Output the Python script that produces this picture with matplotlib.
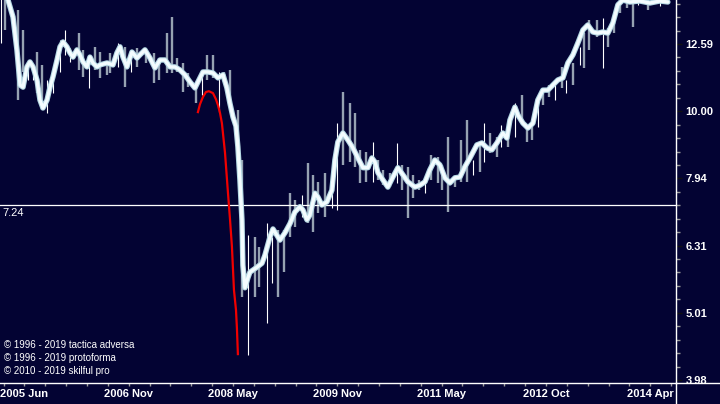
import numpy as np
import matplotlib.pyplot as plt
from matplotlib.lines import Line2D
from matplotlib.ticker import FixedLocator, NullFormatter

plt.rcParams['font.family'] = ['Liberation Sans', 'DejaVu Sans']

# x = week number counted from the left edge of the chart (early Feb 2005)
# weekly price bars (high / low), up = white bar, down = grey bar
bar_week = [1, 4, 13, 17, 21, 24, 27, 31, 35, 39, 44, 48, 52, 58, 61, 66, 70, 74, 79, 81,
            87, 92, 97, 101, 108, 114, 117, 123, 127, 131, 135, 139, 145, 149, 153, 157, 162, 165, 170, 176,
            179, 183, 188, 191, 197, 201, 205, 210, 214, 218, 223, 227, 231, 235, 240, 245, 249, 253, 258, 262,
            266, 270, 275, 279, 283, 288, 293, 297, 301, 305, 309, 314, 318, 323, 326, 331, 336, 340, 345, 349,
            354, 357, 362, 367, 370, 375, 380, 385, 389, 393, 397, 401, 405, 410, 415, 418, 423, 428, 431, 435,
            441, 445, 449, 453, 458, 463, 467, 471, 478, 487]
bar_high = [15.0, 15.0, 14.15, 13.21, 11.92, 11.72, 12.25, 11.72, 11.13, 11.21, 12.76, 13.21, 12.42, 13.07, 12.34, 11.80, 12.47, 12.25, 11.84, 12.21,
            12.63, 12.47, 12.34, 12.42, 12.34, 12.21, 12.00, 13.07, 13.81, 12.00, 11.80, 11.40, 11.02, 11.25, 12.13, 12.13, 11.44, 11.44, 11.52, 10.04,
            8.46, 6.54, 6.50, 6.29, 6.82, 6.50, 6.66, 6.66, 7.55, 7.38, 7.50, 8.38, 8.04, 7.85, 8.10, 7.63, 9.60, 10.68, 10.28, 9.94,
            8.76, 8.70, 9.00, 8.46, 8.18, 8.10, 8.97, 8.32, 8.27, 8.04, 7.90, 7.90, 8.61, 8.55, 8.32, 9.15, 7.90, 9.06, 9.70, 8.46,
            8.97, 9.60, 9.28, 9.15, 9.54, 9.28, 10.28, 10.57, 9.47, 9.54, 10.39, 10.83, 10.94, 11.02, 11.64, 11.13, 11.80, 12.47, 13.07, 13.67,
            13.67, 13.76, 13.30, 13.81, 15.0, 15.0, 15.0, 15.0, 15.0, 15.0]
bar_low = [12.63, 13.21, 10.39, 11.44, 11.13, 11.13, 10.64, 10.04, 9.94, 10.64, 11.44, 12.13, 11.84, 11.52, 11.25, 10.83, 11.52, 11.21, 11.33, 11.40,
           11.64, 10.86, 11.44, 11.64, 11.80, 11.02, 11.13, 11.40, 11.40, 11.44, 10.68, 10.86, 10.28, 10.57, 11.13, 11.21, 9.97, 11.06, 10.28, 8.97,
           5.29, 4.34, 5.29, 5.48, 4.84, 5.55, 5.29, 5.76, 6.50, 6.73, 6.96, 6.82, 6.61, 7.06, 6.96, 7.18, 7.13, 8.32, 8.41, 8.27,
           7.82, 7.85, 7.85, 7.90, 7.76, 7.71, 7.82, 7.63, 6.94, 7.43, 7.63, 7.55, 7.90, 7.82, 7.63, 7.08, 7.71, 7.85, 7.85, 8.04,
           8.13, 8.41, 8.67, 8.55, 8.85, 8.85, 9.15, 9.60, 9.00, 9.06, 9.47, 10.21, 10.50, 10.39, 10.83, 10.64, 10.94, 11.72, 11.60, 12.34,
           12.89, 11.60, 12.47, 13.07, 14.00, 14.25, 13.35, 14.40, 14.15, 14.35]
bar_up = [1, 0, 0, 0, 1, 1, 0, 0, 1, 1, 1, 1, 1, 0, 0, 1, 0, 0, 0, 0,
          1, 0, 1, 0, 0, 0, 0, 0, 0, 0, 0, 0, 0, 1, 0, 0, 1, 0, 0, 0,
          0, 1, 0, 0, 1, 1, 0, 0, 0, 0, 1, 0, 0, 0, 0, 1, 1, 0, 0, 0,
          0, 0, 1, 0, 0, 0, 1, 0, 0, 0, 0, 1, 0, 0, 0, 0, 0, 0, 0, 1,
          0, 1, 0, 0, 1, 0, 1, 0, 0, 0, 1, 0, 0, 1, 0, 1, 0, 1, 0, 0,
          0, 1, 0, 0, 0, 0, 0, 1, 0, 1]

# smoothed price line
line_week = [3.0, 5.9, 9.6, 12.5, 14.8, 17.0, 19.9, 22.1, 24.4, 27.3, 29.5, 31.7, 34.7, 36.9, 39.1, 42.1, 44.3, 46.5, 49.4, 51.7,
             53.9, 56.8, 59.0, 61.3, 64.2, 66.4, 68.6, 71.6, 73.8, 79.0, 83.4, 86.3, 88.6, 90.8, 93.7, 97.4, 101.1, 103.3, 107.0, 110.7,
             114.4, 118.1, 121.8, 125.5, 129.2, 132.8, 136.5, 140.2, 143.9, 147.6, 149.8, 153.5, 157.2, 160.9, 164.6, 167.5, 169.7, 172.0, 174.2, 175.6,
             177.1, 178.6, 179.3, 180.8, 183.0, 184.5, 189.7, 193.4, 195.6, 199.3, 201.5, 206.6, 210.3, 214.0, 217.7, 221.4, 223.6, 226.6, 228.8, 232.5,
             234.7, 237.6, 241.3, 245.0, 247.2, 249.4, 253.1, 256.8, 260.5, 264.2, 267.9, 271.6, 274.5, 276.8, 279.0, 282.7, 286.3, 290.0, 293.7, 297.4,
             301.1, 306.3, 310.0, 313.7, 317.3, 321.0, 324.7, 328.4, 332.1, 335.8, 339.5, 343.2, 346.9, 352.0, 355.7, 359.4, 363.1, 366.8, 369.0, 371.2,
             374.2, 376.4, 380.1, 382.3, 386.0, 389.7, 393.4, 397.0, 400.7, 404.4, 408.1, 411.8, 415.5, 419.2, 422.9, 426.6, 430.3, 433.9, 437.6, 441.3,
             445.0, 448.7, 452.4, 456.1, 459.8, 464.9, 472.3, 479.7, 487.1, 493.0]
line_value = [15.25, 14.64, 13.81, 12.34, 10.94, 10.86, 11.64, 11.84, 11.64, 11.13, 10.39, 10.11, 10.39, 10.86, 11.25, 11.92, 12.47, 12.68, 12.47, 12.21,
              12.04, 12.34, 12.13, 11.84, 11.64, 12.04, 11.80, 11.64, 11.72, 11.80, 11.72, 12.21, 12.47, 12.04, 11.64, 12.25, 12.00, 12.13, 12.34, 12.00,
              11.60, 11.92, 11.92, 11.64, 11.64, 11.52, 11.33, 11.06, 10.83, 11.21, 11.44, 11.44, 11.40, 11.21, 11.33, 10.83, 10.28, 9.80, 9.50, 8.85,
              7.90, 6.89, 5.90, 5.46, 5.65, 5.76, 5.86, 5.94, 6.11, 6.50, 6.68, 6.43, 6.59, 6.80, 7.08, 7.21, 7.13, 6.89, 7.01, 7.55,
              7.45, 7.25, 7.33, 7.63, 8.46, 9.00, 9.28, 9.06, 8.82, 8.52, 8.24, 8.24, 8.52, 8.40, 8.10, 7.90, 7.71, 7.98, 8.24, 8.04,
              7.85, 7.71, 7.76, 7.85, 8.18, 8.46, 8.32, 7.96, 7.82, 7.96, 7.98, 8.27, 8.52, 8.91, 8.97, 8.82, 8.76, 8.97, 9.12, 9.28,
              9.12, 9.70, 10.14, 9.87, 9.60, 9.44, 9.60, 10.39, 10.75, 10.75, 10.94, 11.13, 11.21, 11.80, 12.13, 12.64, 13.21, 13.44, 13.12, 13.07,
              13.12, 13.07, 13.53, 14.40, 14.64, 14.54, 14.59, 14.49, 14.59, 14.54]

# red projection curve
fit_week = [146.1, 147.6, 149.8, 152.0, 154.2, 157.2, 159.4, 160.9, 162.4, 163.8, 166.1, 168.3, 169.7, 171.2, 172.7, 174.2, 174.9, 175.6]
fit_value = [9.97, 10.24, 10.50, 10.68, 10.71, 10.64, 10.42, 10.21, 9.94, 9.60, 8.67, 7.55, 6.94, 6.29, 5.42, 5.06, 4.75, 4.35]

level = 7.24

tick_weeks = [18, 95, 172, 249, 326, 403, 480]
tick_labels = ['2005 Jun', '2006 Nov', '2008 May', '2009 Nov', '2011 May', '2012 Oct', '2014 Apr']

bg = '#030333'

fig = plt.figure(figsize=(7.2, 4.04), dpi=100, facecolor=bg)
ax = fig.add_axes([0, 21 / 404, 676 / 720, 383 / 404])
ax.set_facecolor(bg)

colors = ['#ffffff' if u else '#96a2b2' for u in bar_up]
widths = [0.8 if u else 1.7 for u in bar_up]
ax.vlines(bar_week, bar_low, bar_high, colors=colors, linewidths=widths, zorder=2)

ax.axhline(level, color='white', lw=0.9, zorder=3)

ax.plot(line_week, line_value, color='#b3d6e2', lw=3.9, solid_joinstyle='round',
        solid_capstyle='round', zorder=4)
ax.plot(line_week, line_value, color='#f3fcff', lw=2.4, solid_joinstyle='round',
        solid_capstyle='round', zorder=5)

ax.plot(fit_week, fit_value, color='#f00000', lw=1.6, solid_joinstyle='round', zorder=6)

# log price axis on the right
ax.set_yscale('log')
ax.set_ylim(3.94, 14.64)
ax.set_xlim(0, 499)
ax.yaxis.tick_right()
ax.yaxis.set_major_locator(FixedLocator(10 ** np.arange(0.6, 1.15, 0.1)))
ax.yaxis.set_minor_locator(FixedLocator(10 ** np.arange(0.58, 1.18, 0.02)))
ax.yaxis.set_major_formatter(plt.FuncFormatter(lambda v, p: f'{v:.2f}'))
ax.yaxis.set_minor_formatter(NullFormatter())
ax.tick_params(axis='y', which='major', length=4.5, width=1, color='#111111', pad=2.5,
               labelsize=8, labelcolor='white')
ax.tick_params(axis='y', which='minor', length=3, width=1, color='#9a9a9a')
for lab in ax.get_yticklabels():
    lab.set_fontweight('bold')

ax.set_xticks(tick_weeks)
ax.set_xticklabels(tick_labels, fontweight='bold')
ax.xaxis.set_minor_locator(FixedLocator(np.arange(2.6, 499, 15.4)))
ax.tick_params(axis='x', which='both', length=2.5, width=1, color='#9a9a9a', pad=2,
               labelsize=8, labelcolor='white')

for s in ['left', 'top']:
    ax.spines[s].set_visible(False)
for s in ['right', 'bottom']:
    ax.spines[s].set_color('white')
    ax.spines[s].set_linewidth(1)

# axis lines continue into the corner
fig.add_artist(Line2D([676 / 720, 676 / 720], [0, 21 / 404], color='white', lw=1,
                      transform=fig.transFigure))
fig.add_artist(Line2D([676 / 720, 1], [21 / 404, 21 / 404], color='white', lw=1,
                      transform=fig.transFigure))

ax.annotate(f'{level:.2f}', xy=(0, level), xycoords=('axes fraction', 'data'),
            xytext=(2, -2), textcoords='offset points', color='white', fontsize=8,
            va='top', ha='left')

credits = ['\u00a9 1996 - 2019 tactica adversa',
           '\u00a9 1996 - 2019 protoforma',
           '\u00a9 2010 - 2019 skilful pro']
for i, t in enumerate(credits):
    fig.text(4 / 720, 1 - (345 + 13 * i) / 404, t, color='white', fontsize=7, va='center')

fig.savefig('out.png', dpi=100, facecolor=bg)
